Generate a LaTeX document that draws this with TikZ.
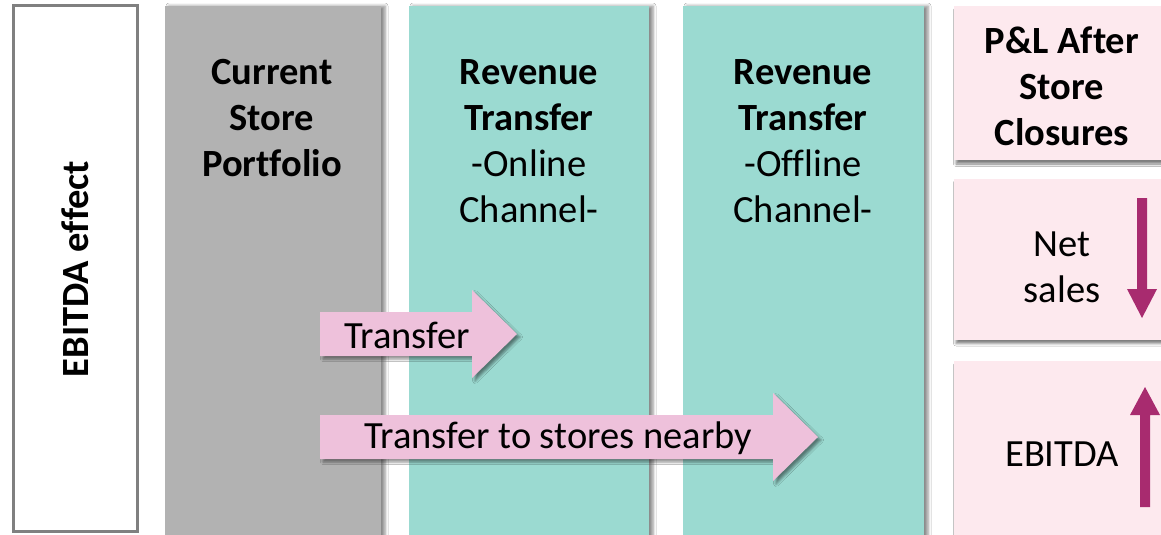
\documentclass[tikz,border=0pt]{standalone}
\usepackage{fontspec}
\setmainfont{Carlito}[Ligatures={NoCommon}]
\usetikzlibrary{shadows.blur}
\definecolor{colgray}{HTML}{B2B2B2}
\definecolor{colteal}{HTML}{9BDAD1}
\definecolor{colpink}{HTML}{FDE9EE}
\definecolor{arrpink}{HTML}{EEC1DB}
\definecolor{magenta2}{HTML}{A82B6F}
\definecolor{bordergray}{HTML}{808080}
\begin{document}
\begin{tikzpicture}[x=1pt,y=-1pt,
  txt/.style={font=\fontsize{38.5pt}{46pt}\selectfont, align=center, text=black, inner sep=0pt},
  colbox/.style={inner sep=0pt, draw=none, blur shadow={shadow xshift=4pt, shadow yshift=0pt, shadow blur radius=3pt, shadow opacity=45}},
  pinkbox/.style={inner sep=0pt, draw=none, fill=colpink, minimum width=221pt, blur shadow={shadow xshift=2pt, shadow yshift=-4pt, shadow blur radius=2.5pt, shadow opacity=50}},
  blockarrow/.style={fill=arrpink, blur shadow={shadow xshift=3pt, shadow yshift=-3pt, shadow blur radius=2.5pt, shadow opacity=45}},
  updown/.style={fill=magenta2}
]
\clip (0,0) rectangle (1161,535);
\fill[white] (0,0) rectangle (1161,535);

% left label box
\node[draw=bordergray, line width=3pt, fill=white, minimum width=124pt, minimum height=526pt, inner sep=0pt] (effect) at (75.5,268.5) {};
\node[txt, font=\fontsize{38.5pt}{46pt}\selectfont\bfseries, rotate=90] (effecttxt) at (75.5,269) {EBITDA effect};

% columns
\node[colbox, fill=colgray, minimum width=216pt, minimum height=534pt] (current) at (273,273) {};
\node[colbox, fill=colteal, minimum width=240pt, minimum height=534pt] (online) at (529,273) {};
\node[colbox, fill=colteal, minimum width=241pt, minimum height=534pt] (offline) at (803.5,273) {};

% pink boxes
\node[pinkbox, minimum height=154pt] (pl) at (1064.5,83) {};
\node[pinkbox, minimum height=161pt] (net) at (1064.5,259) {};
\node[pinkbox, minimum height=184pt] (ebitda) at (1064.5,453) {};

% column headers
\node[txt] (currenttxt) at (272,118) {\textbf{Current}\\\textbf{Store}\\\textbf{Portfolio}};
\node[txt] (onlinetxt) at (529,141) {\textbf{Revenue}\\\textbf{Transfer}\\-Online\\Channel-};
\node[txt] (offlinetxt) at (803,141) {\textbf{Revenue}\\\textbf{Transfer}\\-Offline\\Channel-};
\node[txt] (pltxt) at (1062,86) {\textbf{P\&L After}\\\textbf{Store}\\\textbf{Closures}};
\node[txt] (nettxt) at (1062,267) {Net\\sales};
\node[txt] (ebitdatxt) at (1062,454) {EBITDA};

% block arrows
\path[blockarrow] (320,312) -- (472,312) -- (472,290) -- (517,334) -- (472,378) -- (472,356) -- (320,356) -- cycle;
\node[txt] (transfer1) at (407,335) {Transfer};
\path[blockarrow] (320,415) -- (773,415) -- (773,393) -- (818,437) -- (773,481) -- (773,459) -- (320,459) -- cycle;
\node[txt] (transfer2) at (558,438) {Transfer to stores nearby};

% up/down arrows
\path[updown] (1137,198) -- (1147,198) -- (1147,289) -- (1157,289) -- (1142,318) -- (1127,289) -- (1137,289) -- cycle;
\path[updown] (1140,507) -- (1150,507) -- (1150,415) -- (1160,415) -- (1145,387) -- (1130,415) -- (1140,415) -- cycle;
\end{tikzpicture}
\end{document}
